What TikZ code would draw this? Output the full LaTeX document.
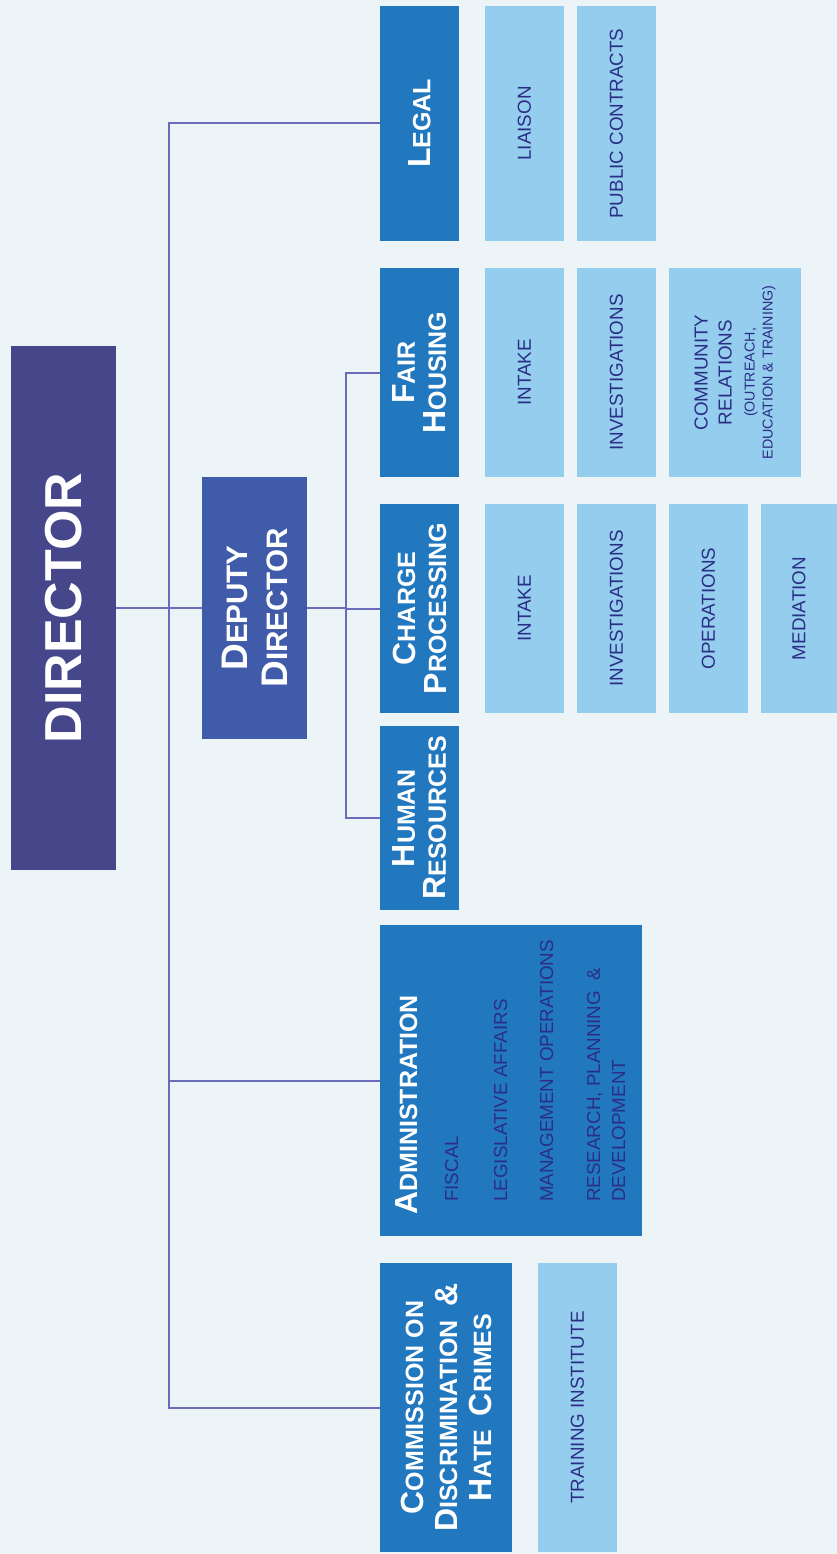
\documentclass[tikz,border=0pt]{standalone}
\usepackage{fontspec}
\setmainfont{Liberation Sans}
\definecolor{bgc}{HTML}{ECF4F8}
\definecolor{dirc}{HTML}{46478A}
\definecolor{depc}{HTML}{3F5BA9}
\definecolor{deptc}{HTML}{2278BF}
\definecolor{lightc}{HTML}{95CDEF}
\definecolor{linec}{HTML}{6A6BBA}
\definecolor{navyc}{HTML}{2A2E84}
\newcommand\smc[2]{{\fontsize{32}{31}\selectfont #1}#2}
\newcommand\bsmc[2]{{\fontsize{37}{40}\selectfont #1}#2}
\newcommand\tinyline[1]{{\fontsize{14.3}{16}\selectfont #1}}
\begin{document}
\begin{tikzpicture}[x=1pt,y=-1pt,
  box/.style={rectangle, inner sep=0pt, outer sep=0pt, rotate=90, align=center},
  head/.style={box, text=white, font=\bfseries\fontsize{25}{31}\selectfont},
  dept/.style={head, fill=deptc},
  sub/.style={box, fill=lightc, text=navyc, font=\fontsize{18.8}{24}\selectfont},
  item/.style={rotate=90, inner sep=0pt, anchor=base west, text=navyc, font=\fontsize{18.8}{22}\selectfont},
  conn/.style={draw=linec, line width=2pt}]

\fill[bgc] (0,0) rectangle (837,1554);
\useasboundingbox (0,0) rectangle (837,1554);

% top level
\node[head, fill=dirc, minimum width=524, minimum height=105, font=\bfseries\fontsize{52}{60}\selectfont] (director) at (63.5,608) {DIRECTOR};
\node[head, fill=depc, minimum width=262, minimum height=105, font=\bfseries\fontsize{29.6}{40}\selectfont] (deputy) at (254.5,608) {\bsmc{D}{EPUTY}\\\bsmc{D}{IRECTOR}};

% Legal
\node[dept, minimum width=235, minimum height=79] (legal) at (419.5,123.5) {\smc{L}{EGAL}};
\node[sub, minimum width=235, minimum height=79] (liaison) at (524.5,123.5) {LIAISON};
\node[sub, minimum width=235, minimum height=79] (pubcon) at (616.5,123.5) {PUBLIC CONTRACTS};

% Fair housing
\node[dept, minimum width=209, minimum height=79] (fh) at (419.5,372.5) {\smc{F}{AIR}\\\smc{H}{OUSING}};
\node[sub, minimum width=209, minimum height=79] (fhintake) at (524.5,372.5) {INTAKE};
\node[sub, minimum width=209, minimum height=79] (fhinv) at (616.5,372.5) {INVESTIGATIONS};
\node[sub, minimum width=209, minimum height=132] (fhcomm) at (735,372.5) {COMMUNITY\\RELATIONS\\[-1pt]\tinyline{(OUTREACH,}\\[-6pt]\tinyline{EDUCATION \& TRAINING)}};

% Charge processing
\node[dept, minimum width=209, minimum height=79] (cp) at (419.5,608.5) {\smc{C}{HARGE}\\\smc{P}{ROCESSING}};
\node[sub, minimum width=209, minimum height=79] (cpintake) at (524.5,608.5) {INTAKE};
\node[sub, minimum width=209, minimum height=79] (cpinv) at (616.5,608.5) {INVESTIGATIONS};
\node[sub, minimum width=209, minimum height=79] (cpops) at (708.5,608.5) {OPERATIONS};
\node[sub, minimum width=209, minimum height=76] (cpmed) at (799,608.5) {MEDIATION};

% Human resources
\node[dept, minimum width=184, minimum height=79] (hr) at (419.5,818) {\smc{H}{UMAN}\\\smc{R}{ESOURCES}};

% Administration
\node[box, fill=deptc, minimum width=311, minimum height=262] (admin) at (511,1080.5) {};
\node[item, text=white, font=\bfseries\fontsize{25}{31}\selectfont] (adminhead) at (417,1215) {\smc{A}{DMINISTRATION}};
\node[item] (fiscal) at (458,1202) {FISCAL};
\node[item] (legis) at (507,1202) {LEGISLATIVE AFFAIRS};
\node[item] (mgmt) at (553,1202) {MANAGEMENT OPERATIONS};
\node[item] (rpd) at (600,1202) {RESEARCH, PLANNING \ \&};
\node[item] (devel) at (625,1202) {DEVELOPMENT};

% Commission
\node[dept, minimum width=289, minimum height=132, font=\bfseries\fontsize{25}{34}\selectfont] (comm) at (446,1407.5) {\smc{C}{OMMISSION ON}\\\smc{D}{ISCRIMINATION}\ \ {\fontsize{32}{34}\selectfont\&}\\\smc{H}{ATE}\ \ \smc{C}{RIMES}};
\node[sub, minimum width=289, minimum height=79] (training) at (577.5,1407.5) {TRAINING INSTITUTE};

% connectors
\coordinate (t1) at (169,123.5);
\coordinate (t2) at (169,1407.5);
\coordinate (d1) at (346,372.5);
\coordinate (d2) at (346,818);
\draw[conn] (legal.north) -- (t1) -- (t2) -- (comm.north);
\draw[conn] (admin.north) -- (admin.north -| t1);
\draw[conn] (director.south) -- (deputy.north);
\draw[conn] (fh.north) -- (d1) -- (d2) -- (hr.north);
\draw[conn] (deputy.south) -- (deputy.south -| d1);
\draw[conn] (cp.north) -- (cp.north -| d1);
\end{tikzpicture}
\end{document}
